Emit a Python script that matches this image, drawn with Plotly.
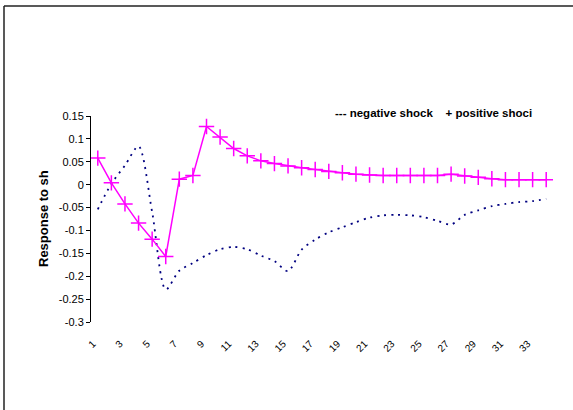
import plotly.graph_objects as go

periods = list(range(1, 35))
positive_shock = [0.058, 0.004, -0.042, -0.084, -0.119, -0.157, 0.012, 0.020, 0.127, 0.104,
                  0.079, 0.063, 0.052, 0.046, 0.041, 0.037, 0.033, 0.029, 0.026, 0.023,
                  0.021, 0.020, 0.020, 0.020, 0.020, 0.020, 0.023, 0.019, 0.016, 0.013,
                  0.011, 0.011, 0.011, 0.011]
negative_shock = [-0.054, 0.002, 0.042, 0.084, -0.060, -0.229, -0.188, -0.171, -0.154, -0.141,
                  -0.136, -0.141, -0.155, -0.167, -0.189, -0.142, -0.120, -0.104, -0.093, -0.082,
                  -0.072, -0.067, -0.066, -0.067, -0.071, -0.079, -0.087, -0.066, -0.056, -0.047,
                  -0.042, -0.038, -0.036, -0.031]
y_tick_vals = [0.15, 0.1, 0.05, 0, -0.05, -0.1, -0.15, -0.2, -0.25, -0.3]
y_tick_text = ["0.15", "0.1", "0.05", "0", "-0.05", "-0.1", "-0.15", "-0.2", "-0.25", "-0.3"]
x_tick_vals = list(range(1, 34, 2))
x_tick_text = [str(v) for v in x_tick_vals]

FONT = "Arial, Liberation Sans, sans-serif"

fig = go.Figure()
fig.add_trace(go.Scatter(
    x=periods, y=negative_shock, mode="lines",
    line=dict(color="#000080", width=1.8, dash="2px,5px", shape="spline", smoothing=0.8),
    showlegend=False,
))
fig.add_trace(go.Scatter(
    x=periods, y=positive_shock, mode="lines+markers",
    line=dict(color="#FF00FF", width=1.5),
    marker=dict(symbol="cross-thin", size=11, line=dict(color="#FF00FF", width=1.5)),
    showlegend=False,
))

W, H = 573, 410
L, R, T, B = 91, 20, 116, 88
pw, ph = W - L - R, H - T - B

def px_x(px):
    return (px - L) / pw

def px_y(py):
    return (H - B - py) / ph

fig.update_layout(
    width=W, height=H,
    margin=dict(l=L, r=R, t=T, b=B, pad=0),
    paper_bgcolor="white", plot_bgcolor="white",
    font=dict(family=FONT, color="black", size=11),
    xaxis=dict(range=[0.5, 34.5], tickvals=x_tick_vals, ticktext=x_tick_text,
               tickangle=-45, showgrid=False, zeroline=False, showline=False,
               ticks="", tickfont=dict(size=10), ticklabelstandoff=13,
               ticklabelshift=-5),
    yaxis=dict(range=[-0.3, 0.15], tickvals=y_tick_vals, ticktext=y_tick_text,
               showgrid=False, zeroline=False, showline=True, linecolor="black",
               linewidth=1, ticks="outside", ticklen=4, tickcolor="black",
               tickfont=dict(size=11)),
    shapes=[
        dict(type="line", xref="paper", yref="paper", x0=px_x(4), x1=px_x(600),
             y0=px_y(6), y1=px_y(6), line=dict(color="#222", width=1.5)),
        dict(type="line", xref="paper", yref="paper", x0=px_x(4), x1=px_x(4),
             y0=px_y(6), y1=px_y(430), line=dict(color="#222", width=1.5)),
    ],
    annotations=[
        dict(text="<b>--- negative shock&nbsp;&nbsp;&nbsp;&nbsp;+ positive shoci</b>",
             xref="paper", yref="paper",
             x=px_x(333), y=px_y(113), xanchor="left", yanchor="middle",
             showarrow=False, font=dict(size=11.5)),
        dict(text="<b>Response to sh</b>", xref="paper", yref="paper",
             x=px_x(43), y=px_y(219), xanchor="center", yanchor="middle",
             textangle=-90, showarrow=False, font=dict(size=13)),
    ],
)

fig.write_html("out.html")
